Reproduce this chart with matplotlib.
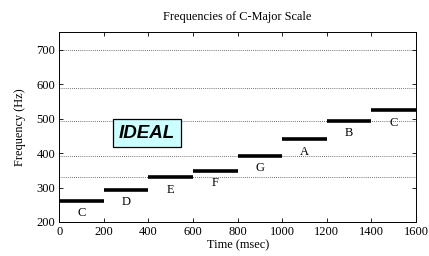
import matplotlib.pyplot as plt

plt.rcParams['font.family'] = ['Liberation Serif', 'DejaVu Serif']

# note names and their frequencies (Hz), each held for 200 ms
notes = ['C', 'D', 'E', 'F', 'G', 'A', 'B', 'C']
freqs = [261.6, 293.7, 329.6, 349.2, 392.0, 440.0, 493.9, 523.3]
starts = [0, 200, 400, 600, 800, 1000, 1200, 1400]
duration = 200

# reference lines drawn in the chart
ref_lines = [329.6, 392.0, 493.9, 587.3, 700]

fig = plt.figure(figsize=(4.29, 2.56), dpi=100)
ax = fig.add_axes([59.3 / 429, 1 - 222 / 256, (416 - 59.3) / 429, (222 - 32.3) / 256])

for y in ref_lines:
    ax.axhline(y, color='#444444', linestyle=(0, (1, 1.5)), linewidth=0.6, zorder=1)

for name, f, t0 in zip(notes, freqs, starts):
    ax.hlines(f, t0, t0 + duration, color='black', linewidth=2.6, zorder=3)
    ax.text(t0 + duration / 2, f - 36, name, ha='center', va='center', fontsize=9)

ax.text(393, 457, 'IDEAL', ha='center', va='center', fontsize=13.5,
        fontweight='bold', fontstyle='italic', family=['Liberation Sans', 'DejaVu Sans'],
        bbox=dict(boxstyle='square,pad=0.3', facecolor='#ccffff', edgecolor='black', linewidth=0.9),
        zorder=4)

ax.set_xlim(0, 1600)
ax.set_ylim(200, 750)
ax.set_xticks(range(0, 1601, 200))
ax.set_yticks(range(200, 701, 100))
ax.tick_params(direction='in', top=True, right=True, labelsize=9, length=3, width=0.6, pad=3)
for s in ax.spines.values():
    s.set_linewidth(0.7)

ax.set_xlabel('Time (msec)', fontsize=8.8, labelpad=1)
ax.set_ylabel('Frequency (Hz)', fontsize=8.8, labelpad=7.5)
ax.set_title('Frequencies of C-Major Scale', fontsize=8.8, pad=8.5)

fig.savefig('out.png', dpi=100, facecolor='white')
